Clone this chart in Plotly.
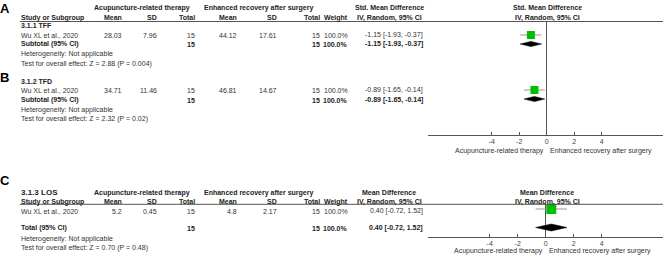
import plotly.graph_objects as go

W, H = 663, 273
FONT = "Liberation Sans, Arial, sans-serif"

# ---------------- data ----------------
panel_letters = ["A", "B", "C"]
subgroups = ["3.1.1 TFF", "3.1.2 TFD", "3.1.3 LOS"]
study_names = ["Wu XL et al., 2020", "Wu XL et al., 2020", "Wu XL et al., 2020"]
exp_mean = [28.03, 34.71, 5.2]
exp_sd = [7.96, 11.46, 0.45]
exp_n = [15, 15, 15]
ctl_mean = [44.12, 46.81, 4.8]
ctl_sd = [17.61, 14.67, 2.17]
ctl_n = [15, 15, 15]
weights = [100.0, 100.0, 100.0]
effect = [-1.15, -0.89, 0.40]
ci_low = [-1.93, -1.65, -0.72]
ci_high = [-0.37, -0.14, 1.52]
z_value = [2.88, 2.32, 0.70]
p_value = ["0.004", "0.02", "0.48"]
effect_titles = ["Std. Mean Difference", "Std. Mean Difference", "Mean Difference"]
tick_vals = [-4, -2, 0, 2, 4]
tick_text = ["-4", "-2", "0", "2", "4"]
exp_label = "Acupuncture-related therapy"
ctl_label = "Enhanced recovery after surgery"
method_label = "IV, Random, 95% CI"

# ---------------- layout constants ----------------
TXT = "#333333"
BTXT = "#222222"
LINE = "#555555"
COLS = [122, 157, 194.5, 237, 277, 320, 348, 423]   # right edges of numeric columns
annotations = []
shapes = []


def txt(x, y, s, anchor="left", size=7, bold=False, color=None):
    annotations.append(dict(
        x=x / W, y=1 - y / H, xref="paper", yref="paper",
        text=f"<b>{s}</b>" if bold else s, showarrow=False,
        xanchor=anchor, yanchor="middle", borderpad=0, borderwidth=0,
        font=dict(size=size, family=FONT, color=color or (BTXT if bold else TXT))))


def hline(x0, x1, y):
    shapes.append(dict(type="line", xref="paper", yref="paper",
                       x0=x0 / W, x1=x1 / W, y0=1 - y / H, y1=1 - y / H,
                       line=dict(color=LINE, width=1)))


def header(y1, y2, title, first_label=None):
    if first_label:
        txt(21, y1, first_label, bold=True, size=8)
    txt(142, y1, exp_label, anchor="center", bold=True)
    txt(258, y1, ctl_label, anchor="center", bold=True)
    txt(389, y1, title, anchor="center", bold=True)
    txt(547, y1, title, anchor="center", bold=True)
    txt(21, y2, "Study or Subgroup", bold=True)
    for xr, lab in zip(COLS[:7], ["Mean", "SD", "Total", "Mean", "SD", "Total", "Weight"]):
        txt(xr, y2, lab, anchor="right", bold=True)
    txt(389, y2, method_label, anchor="center", bold=True)
    txt(547, y2, method_label, anchor="center", bold=True)


def ci_text(i):
    return f"{effect[i]:.2f} [{ci_low[i]:.2f}, {ci_high[i]:.2f}]"


def study_row(i, y):
    txt(21, y, study_names[i])
    vals = [f"{exp_mean[i]}", f"{exp_sd[i]}", f"{exp_n[i]}",
            f"{ctl_mean[i]}", f"{ctl_sd[i]}", f"{ctl_n[i]}", f"{weights[i]:.1f}%"]
    for xr, v in zip(COLS[:7], vals):
        txt(xr, y, v, anchor="right")
    txt(COLS[7], y, ci_text(i), anchor="right")


def total_row(i, y, label):
    txt(21, y, label, bold=True)
    txt(COLS[2], y, f"{exp_n[i]}", anchor="right", bold=True)
    txt(COLS[5], y, f"{ctl_n[i]}", anchor="right", bold=True)
    txt(COLS[6], y, f"{weights[i]:.1f}%", anchor="right", bold=True)
    txt(COLS[7], y, ci_text(i), anchor="right", bold=True)


def notes(i, yh, yt):
    txt(21, yh, "Heterogeneity: Not applicable")
    txt(21, yt, f"Test for overall effect: Z = {z_value[i]:.2f} (P = {p_value[i]})")


# ---- panel A/B table ----
txt(0, 8, panel_letters[0], bold=True, size=13, color="#000")
header(7.5, 17.5, effect_titles[0])
hline(20, W, 21.5)
txt(0, 77, panel_letters[1], bold=True, size=13, color="#000")

top_rows = [
    dict(sub=25.5, study=35.5, tot=44.5, het=54.5, test=63.5),
    dict(sub=81.0, study=90.5, tot=100.0, het=109.5, test=119.0),
]
for i, r in enumerate(top_rows):
    txt(21, r["sub"], subgroups[i], bold=True)
    study_row(i, r["study"])
    total_row(i, r["tot"], "Subtotal (95% CI)")
    notes(i, r["het"], r["test"])

txt(544, 150.5, exp_label, anchor="right")
txt(550, 150.5, ctl_label, anchor="left")

# ---- panel C table ----
txt(0, 180, panel_letters[2], bold=True, size=13, color="#000")
header(192.5, 201.5, effect_titles[2], first_label=subgroups[2])
hline(20, W, 204.3)
c_rows = dict(study=211.0, tot=228.0, het=239.0, test=248.0)
study_row(2, c_rows["study"])
total_row(2, c_rows["tot"], "Total (95% CI)")
notes(2, c_rows["het"], c_rows["test"])
txt(543, 251, exp_label, anchor="right")
txt(549, 251, ctl_label, anchor="left")

# ---------------- forest marks ----------------
fig = go.Figure()
marks = [
    dict(i=0, ax=("x", "y"), ys=35.0, yd=44.0, sq=8, dh=2.6),
    dict(i=1, ax=("x", "y"), ys=90.0, yd=99.0, sq=8, dh=2.6),
    dict(i=2, ax=("x2", "y2"), ys=209.0, yd=227.5, sq=10, dh=3.5),
]
for m in marks:
    i = m["i"]
    xa, ya = m["ax"]
    fig.add_trace(go.Scatter(x=[ci_low[i], ci_high[i]], y=[m["ys"], m["ys"]], mode="lines",
                             line=dict(color="#999999", width=1), xaxis=xa, yaxis=ya,
                             hoverinfo="skip", cliponaxis=False))
    fig.add_trace(go.Scatter(x=[effect[i]], y=[m["ys"]], mode="markers",
                             marker=dict(symbol="square", size=m["sq"], color="#00c000",
                                         line=dict(width=0)),
                             xaxis=xa, yaxis=ya, cliponaxis=False))
    fig.add_trace(go.Scatter(x=[ci_low[i], effect[i], ci_high[i], effect[i], ci_low[i]],
                             y=[m["yd"], m["yd"] - m["dh"], m["yd"], m["yd"] + m["dh"], m["yd"]],
                             mode="lines", fill="toself", fillcolor="#000000",
                             line=dict(color="#000000", width=0.5),
                             xaxis=xa, yaxis=ya, cliponaxis=False))

axis_common = dict(showgrid=False, showline=True, linecolor=LINE, linewidth=1,
                   zeroline=True, zerolinecolor=LINE, zerolinewidth=1,
                   tickmode="array", tickvals=tick_vals, ticktext=tick_text,
                   ticks="inside", ticklen=3, tickcolor=LINE,
                   tickfont=dict(size=7, family=FONT, color="#444444"), fixedrange=True)

fig.update_layout(
    width=W, height=H, margin=dict(l=0, r=0, t=0, b=0),
    paper_bgcolor="white", plot_bgcolor="white", showlegend=False,
    xaxis=dict(domain=[428 / W, 1], range=[(428 - 546.7) / 13.75, (663 - 546.7) / 13.75],
               anchor="y", **axis_common),
    yaxis=dict(domain=[1 - 135 / H, 1 - 21.5 / H], range=[135, 21.5], visible=False,
               fixedrange=True),
    xaxis2=dict(domain=[428 / W, 1], range=[(428 - 545.7) / 14.0, (663 - 545.7) / 14.0],
                anchor="y2", **axis_common),
    yaxis2=dict(domain=[1 - 236.7 / H, 1 - 204.3 / H], range=[236.7, 204.3], visible=False,
                fixedrange=True),
    annotations=annotations, shapes=shapes,
)

fig.write_html(
    "out.html",
    config={"displayModeBar": False},
    post_script="document.body.style.margin='0';document.body.style.padding='0';"
                "document.body.style.overflow='hidden';",
)
